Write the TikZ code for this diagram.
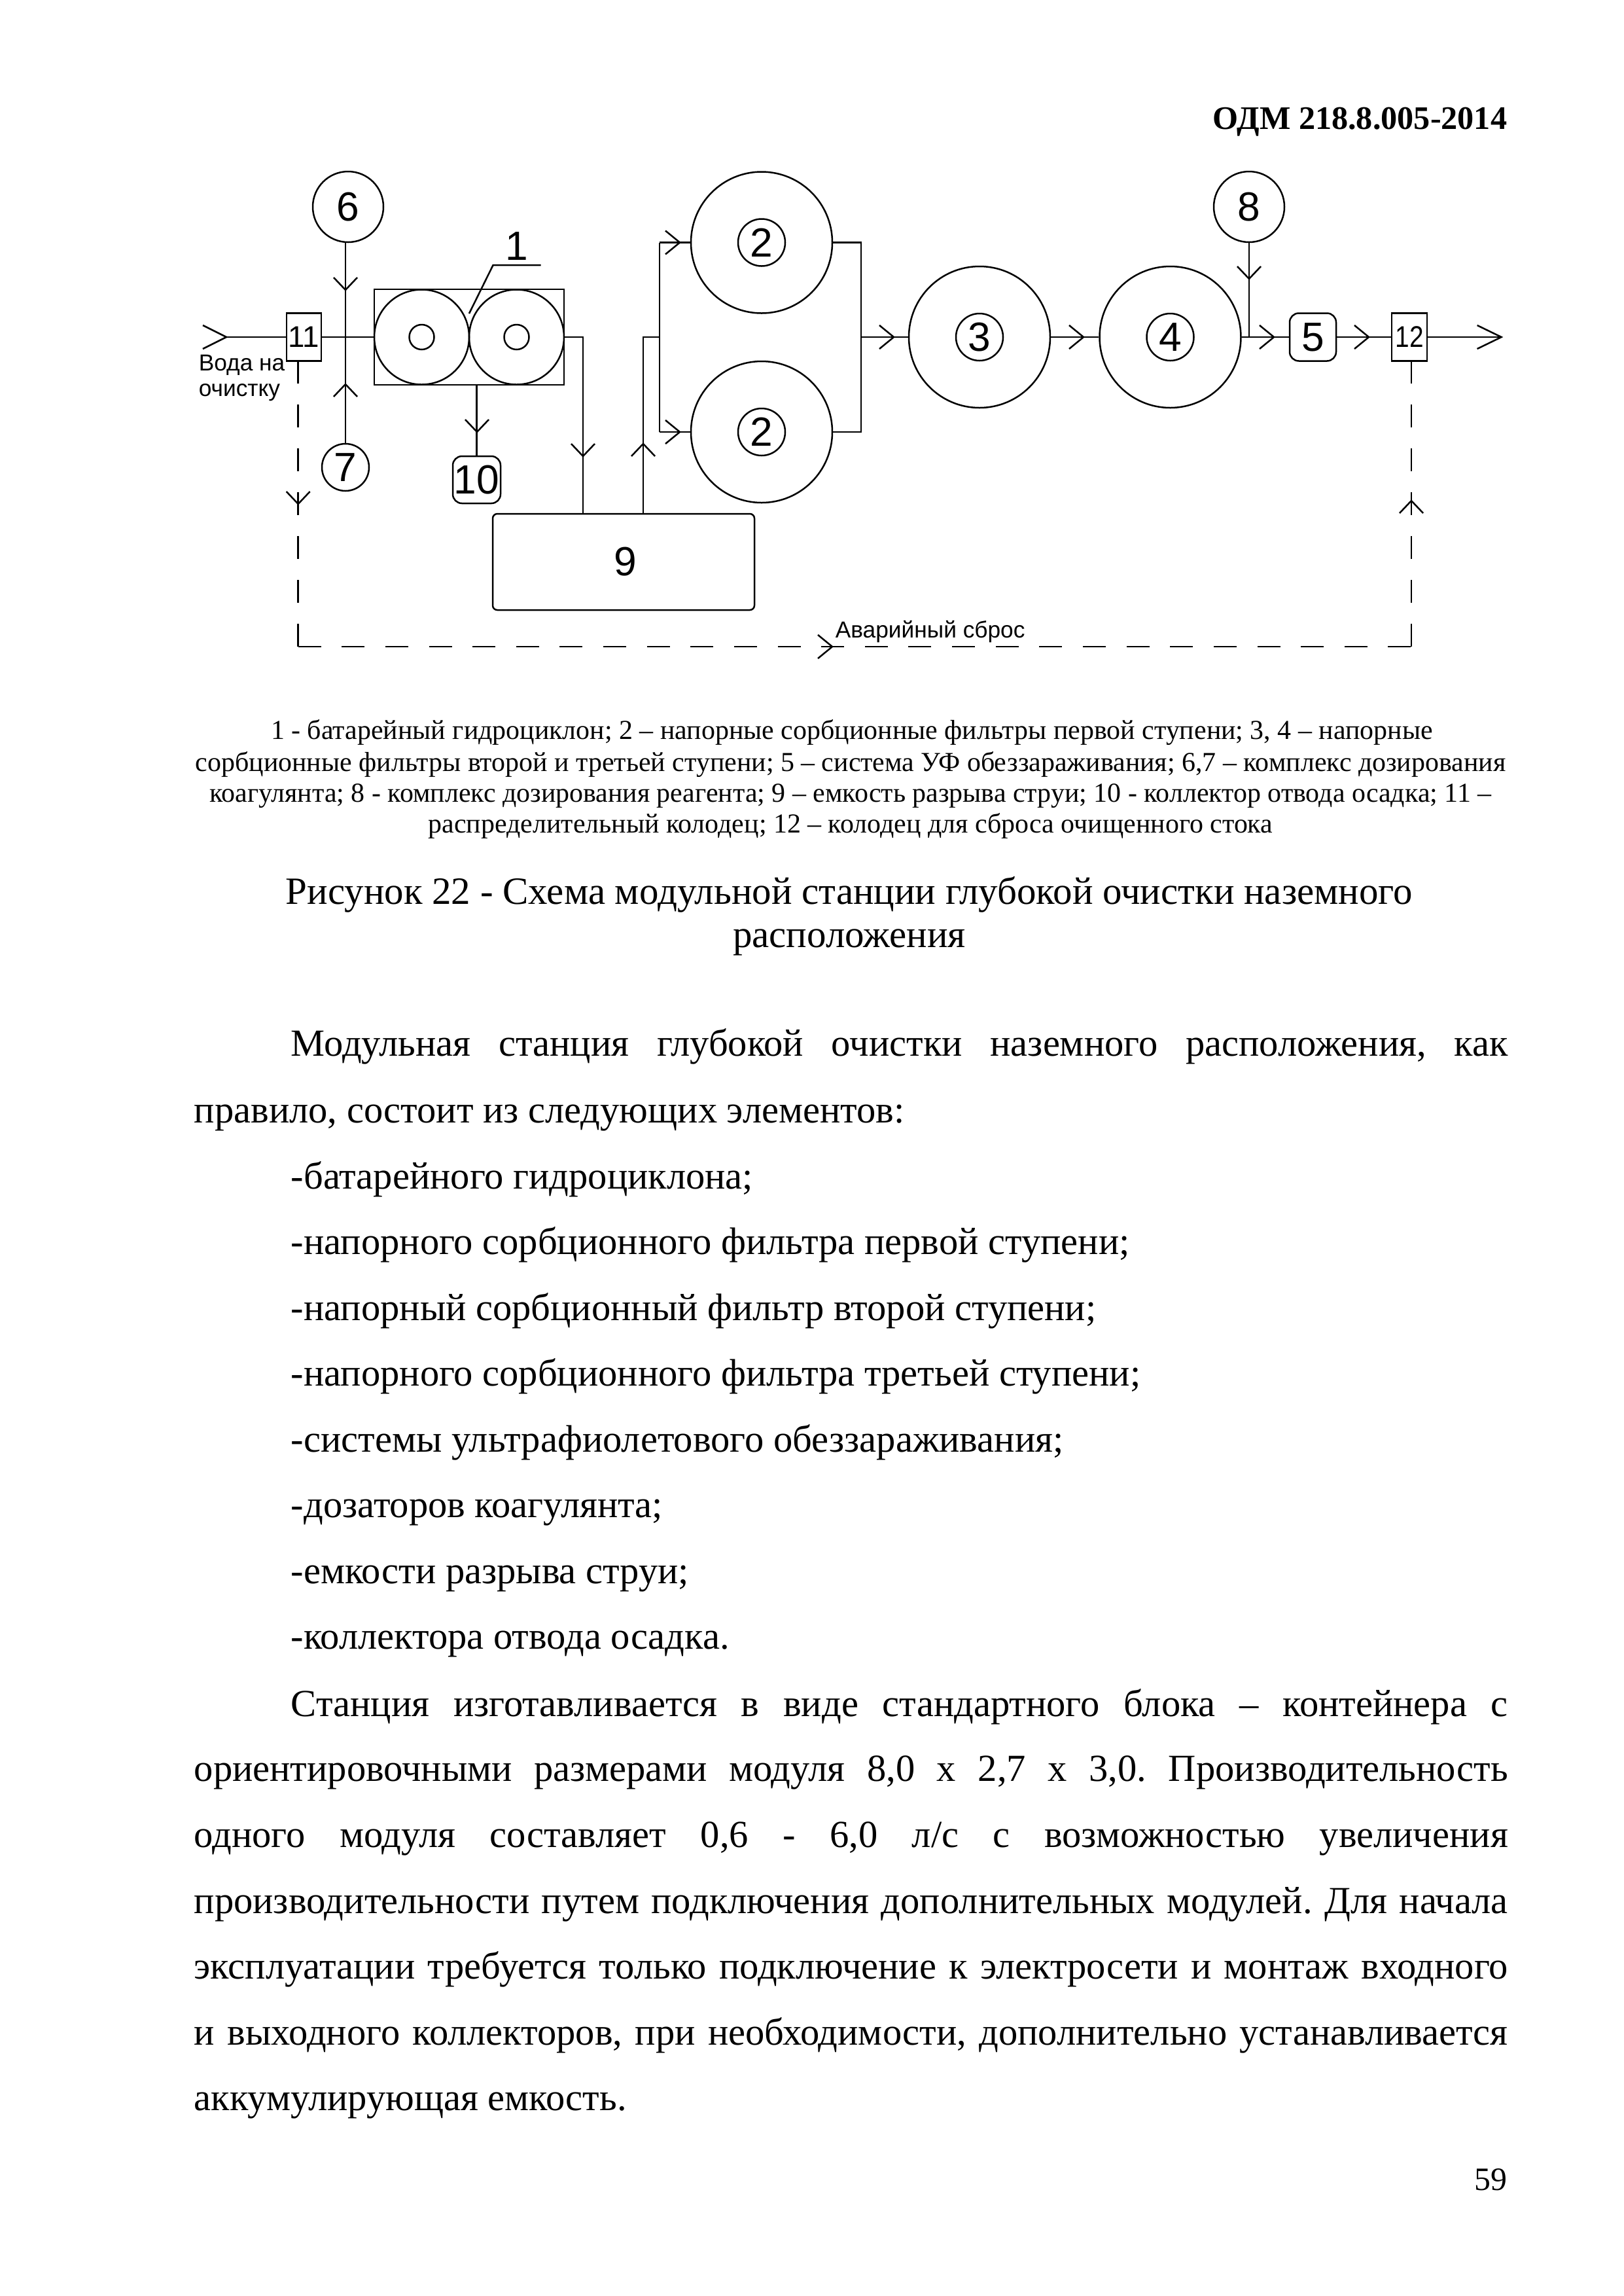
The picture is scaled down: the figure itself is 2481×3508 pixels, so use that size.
\documentclass[tikz,border=0pt]{standalone}
\usepackage{fontspec}
\setmainfont{Liberation Serif}
\newfontfamily\dgfont{Liberation Sans}
\frenchspacing
\tikzset{
 x=0.24bp,y=-0.24bp,
 ln/.style={line width=0.6bp,black},
 dshv/.style={ln,dash pattern=on 8.4bp off 7.68bp},
 dshh/.style={ln,dash pattern=on 8.4bp off 7.59bp},
 boxn/.style={draw,line width=0.6bp,inner sep=0pt,font=\dgfont},
 circn/.style={boxn,circle},
 numf/.style={font=\dgfont\fontsize{15}{15}\selectfont},
 body/.style={inner sep=0pt,anchor=base west,font=\fontsize{14.1}{14}\selectfont},
 capn/.style={inner sep=0pt,anchor=base,font=\fontsize{10.1}{11}\selectfont},
 figt/.style={inner sep=0pt,anchor=base,font=\fontsize{14.2}{14}\selectfont},
 lbl/.style={inner sep=0pt,anchor=base west,font=\dgfont\fontsize{8.5}{9}\selectfont},
}
\newcommand{\headD}[1]{\draw[ln] (#1) ++(-18,-19) -- (#1) -- ++(18,-19);}
\newcommand{\headU}[1]{\draw[ln] (#1) ++(-18,19) -- (#1) -- ++(18,19);}
\newcommand{\headRt}[1]{\draw[ln] (#1) ++(-22,-18) -- (#1) -- ++(-22,18);}
\newlength{\fullw}\setlength{\fullw}{481.92bp}
\newlength{\indw}\setlength{\indw}{446.4bp}
\newcommand{\jfull}[3]{\node[body] (#1) at (296,#2) {\makebox[\fullw][s]{#3}};}
\newcommand{\jind}[3]{\node[body] (#1) at (444,#2) {\makebox[\indw][s]{#3}};}
\newcommand{\lft}[4]{\node[body] (#1) at (#2,#3) {#4};}
\begin{document}
\begin{tikzpicture}
\useasboundingbox (0,0) rectangle (2481,3508);
\fill[white] (0,0) rectangle (2481,3508);
% header
\node[inner sep=0pt,anchor=base east,font=\fontsize{12.1}{12}\selectfont\bfseries] (hdr) at (2304,197) {ОДМ 218.8.005-2014};
% nodes
\node[circn,numf,minimum size=108*0.24bp] (c6) at (532,316) {6};
\node[circn,numf,minimum size=72*0.24bp] (c7) at (528,714) {7};
\node[circn,numf,minimum size=108*0.24bp] (c8) at (1909,316) {8};
\node[boxn,font=\dgfont\fontsize{11}{11}\selectfont,minimum width=53*0.24bp,minimum height=73*0.24bp] (b11) at (464.5,515) {11};
\node[boxn,font=\dgfont\fontsize{11}{11}\selectfont,minimum width=54*0.24bp,minimum height=73*0.24bp] (b12) at (2154,515) {\scalebox{0.85}[1]{12}};
\node[boxn,rectangle,minimum width=290*0.24bp,minimum height=146*0.24bp] (bat) at (717,515) {};
\node[circn,minimum size=145*0.24bp] (g1) at (644.5,515) {};
\node[circn,minimum size=145*0.24bp] (g2) at (789.5,515) {};
\node[circn,minimum size=38*0.24bp] (gi1) at (644.5,515) {};
\node[circn,minimum size=38*0.24bp] (gi2) at (789.5,515) {};
\node[inner sep=0pt,numf] (t1) at (790,376) {1};
\coordinate (l0) at (717,479);
\coordinate (l1) at (753.6,405);
\coordinate (l2) at (826.5,405);
\draw[ln] (l0) -- (l1) -- (l2);
\node[boxn,numf,rounded corners=14*0.24bp,minimum width=73*0.24bp,minimum height=72*0.24bp] (b10) at (728.5,733) {10};
\node[boxn,numf,rounded corners=7*0.24bp,minimum width=400*0.24bp,minimum height=147*0.24bp] (b9) at (953,858.5) {\hspace{1.5bp}9};
\foreach \n/\xx/\yy/\t in {f2a/1164/370.5/2,f2b/1164/660/2,f3/1497/515/3,f4/1788.5/515/4}{
 \node[circn,minimum size=216*0.24bp] (\n) at (\xx,\yy) {};
 \node[circn,numf,minimum size=72*0.24bp] (\n i) at (\xx,\yy) {\t};
}
\node[boxn,numf,rounded corners=14*0.24bp,minimum width=71*0.24bp,minimum height=73*0.24bp] (b5) at (2006.5,515) {5};
% coordinates
\coordinate (in0) at (346,515);
\coordinate (jv) at (528,515);
\coordinate (ne) at (891,515);
\coordinate (nu) at (983,515);
\coordinate (sp) at (1008,515);
\coordinate (ju) at (1909,515);
\coordinate (cc) at (1316,515);
\coordinate (out) at (2294.6,515);
\coordinate (ds0) at (455.7,551);
\coordinate (ds1) at (455.7,988);
\coordinate (ds2) at (2157,988);
\coordinate (ds3) at (2157,551);
% connectors
\draw[ln] (in0) -- (b11.west);
\draw[ln] (b11.east) -- (bat.west);
\draw[ln] (c6.south -| jv) -- (c7.north);
\draw[ln] (bat.south -| b10) -- (b10.north);
\draw[ln] (bat.east) -- (ne) -- (b9.north -| ne);
\draw[ln] (b9.north -| nu) -- (nu) -- (sp);
\draw[ln] (sp |- f2a) -- (sp |- f2b);
\draw[ln] (sp |- f2a) -- (f2a.west);
\draw[ln] (sp |- f2b) -- (f2b.west);
\draw[ln] (f2a.east) -- (cc |- f2a) -- (cc |- f2b) -- (f2b.east);
\draw[ln] (cc) -- (f3.west);
\draw[ln] (f3.east) -- (f4.west);
\draw[ln] (f4.east) -- (b5.west);
\draw[ln] (c8.south -| ju) -- (ju);
\draw[ln] (b5.east) -- (b12.west);
\draw[ln] (b12.east) -- (out);
\draw[dshv] (ds0) -- (ds1);
\draw[dshh] (ds1) -- (ds2);
\draw[dshv] (ds3) -- (ds2);
% heads
\draw[ln] (in0) ++(-36,-18) -- (in0) -- ++(-36,18);
\coordinate (h1) at (528,443); \headD{h1}
\coordinate (h2) at (528,587); \headU{h2}
\coordinate (h3) at (729,660); \headD{h3}
\coordinate (h4) at (891,697); \headD{h4}
\coordinate (h5) at (983,678); \headU{h5}
\coordinate (h6) at (1039,370.5); \headRt{h6}
\coordinate (h7) at (1039,660); \headRt{h7}
\coordinate (h8) at (1366,515); \headRt{h8}
\coordinate (h9) at (1656,515); \headRt{h9}
\coordinate (h10) at (1909,426); \headD{h10}
\coordinate (h11) at (1947,515); \headRt{h11}
\coordinate (h12) at (2092,515); \headRt{h12}
\draw[ln] (out) ++(-37,-18) -- (out) -- ++(-37,18);
\coordinate (h13) at (455.7,770); \headD{h13}
\coordinate (h14) at (2157,765); \headU{h14}
\coordinate (h15) at (1272,988); \headRt{h15}
% diagram labels
\node[lbl] (v1) at (303,566) {Вода на};
\node[lbl] (v2) at (303,605) {очистку};
\node[lbl] (av) at (1276,974) {Аварийный сброс};
% caption
\node[capn] (c1) at (1302,1129) {1 - батарейный гидроциклон; 2 – напорные сорбционные фильтры первой ступени; 3, 4 – напорные};
\node[capn] (c2) at (1300,1178) {сорбционные фильтры второй и третьей ступени; 5 – система УФ обеззараживания; 6,7 – комплекс дозирования};
\node[capn] (c3) at (1300,1225) {коагулянта; 8 - комплекс дозирования реагента; 9 – емкость разрыва струи; 10 - коллектор отвода осадка; 11 –};
\node[capn] (c4) at (1300,1272) {распределительный колодец; 12 – колодец для сброса очищенного стока};
\node[figt] (fa) at (1298,1381) {Рисунок 22 - Схема модульной станции глубокой очистки наземного};
\node[figt] (fb) at (1298,1447) {расположения};
% body
\jind{p1}{1613}{Модульная станция глубокой очистки наземного расположения, как}
\lft{p2}{296}{1715}{правило, состоит из следующих элементов:}
\lft{p3}{444}{1816}{-батарейного гидроциклона;}
\lft{p4}{444}{1916}{-напорного сорбционного фильтра первой ступени;}
\lft{p5}{444}{2017}{-напорный сорбционный фильтр второй ступени;}
\lft{p6}{444}{2117}{-напорного сорбционного фильтра третьей ступени;}
\lft{p7}{444}{2218}{-системы ультрафиолетового обеззараживания;}
\lft{p8}{444}{2318}{-дозаторов коагулянта;}
\lft{p9}{444}{2419}{-емкости разрыва струи;}
\lft{p10}{444}{2519}{-коллектора отвода осадка.}
\jind{p11}{2622}{Станция изготавливается в виде стандартного блока – контейнера с}
\jfull{p12}{2721}{ориентировочными размерами модуля 8,0 х 2,7 х 3,0. Производительность}
\jfull{p13}{2822}{одного модуля составляет 0,6 - 6,0 л/с с возможностью увеличения}
\jfull{p14}{2923}{производительности путем подключения дополнительных модулей. Для начала}
\jfull{p15}{3023}{эксплуатации требуется только подключение к электросети и монтаж входного}
\jfull{p16}{3124}{и выходного коллекторов, при необходимости, дополнительно устанавливается}
\lft{p17}{296}{3224}{аккумулирующая емкость.}
\node[inner sep=0pt,anchor=base east,font=\fontsize{12}{12}\selectfont] (pg) at (2304,3346) {59};
\end{tikzpicture}
\end{document}
